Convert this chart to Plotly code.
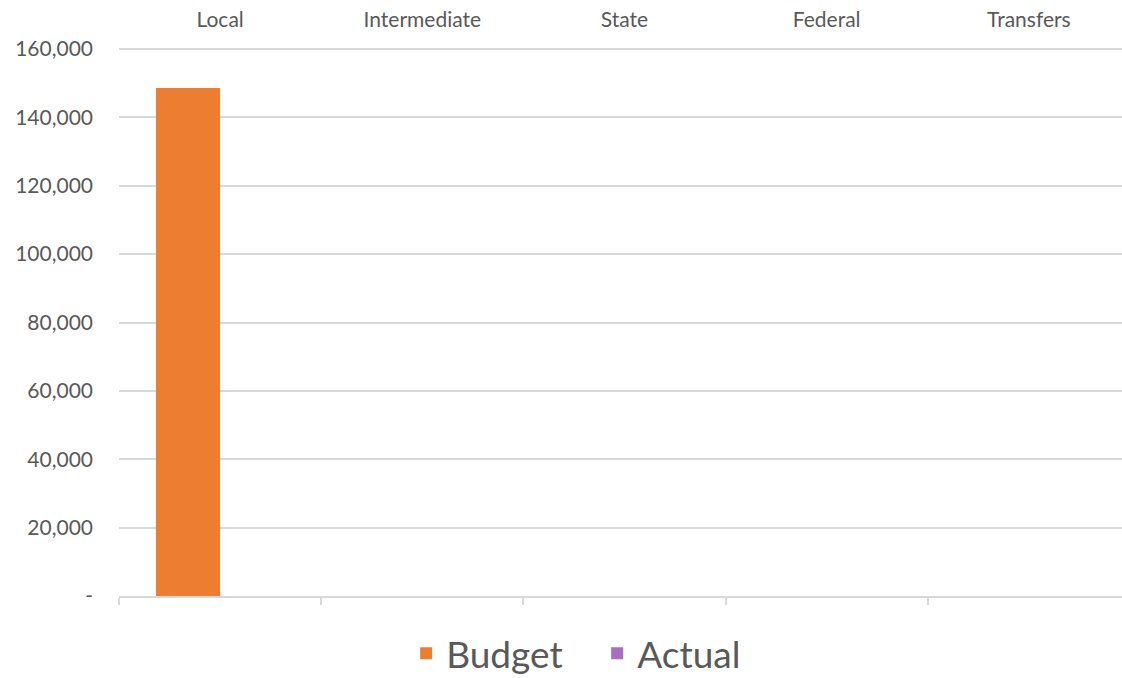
import plotly.graph_objects as go

categories = ["Local", "Intermediate", "State", "Federal", "Transfers"]
budget = [148600, 0, 0, 0, 0]
actual = [0, 0, 0, 0, 0]
y_ticks = [0, 20000, 40000, 60000, 80000, 100000, 120000, 140000, 160000]
y_tick_text = ["-", "20,000", "40,000", "60,000", "80,000", "100,000", "120,000", "140,000", "160,000"]

pos = list(range(len(categories)))
boundaries = [p - 0.5 for p in pos] + [len(categories) - 0.5]

FONT = "Lato, 'Open Sans', sans-serif"
GREY = "#595959"
GRID = "#d9d9d9"

fig = go.Figure()
fig.add_trace(go.Bar(x=pos, y=budget, name="Budget", marker_color="#ED7D31", marker_line_width=0))
fig.add_trace(go.Bar(x=pos, y=actual, name="Actual", marker_color="#A66FC2", marker_line_width=0))
fig.add_trace(go.Scatter(x=[], y=[], xaxis="x2", showlegend=False, hoverinfo="skip"))

plot_w = 1122 - 119
cat_px = 202.2
x_range = [-0.5, -0.5 + plot_w / cat_px]

fig.update_layout(
    width=1122, height=678,
    margin=dict(l=119, r=0, t=48, b=82),
    paper_bgcolor="white", plot_bgcolor="white",
    barmode="group", bargap=0.366, bargroupgap=0,
    font=dict(family=FONT, color=GREY),
    xaxis=dict(
        range=x_range, tickmode="array", tickvals=boundaries,
        showticklabels=False,
        ticks="outside", ticklen=7, tickwidth=2, tickcolor=GRID, automargin=False,
        showline=True, linecolor=GRID, linewidth=2, showgrid=False, zeroline=False,
    ),
    xaxis2=dict(
        overlaying="x", matches="x", side="top", anchor="y", automargin=False,
        tickmode="array", tickvals=pos, ticktext=categories,
        ticks="", showline=False, showgrid=False, zeroline=False, ticklabelstandoff=16,
        tickfont=dict(size=21, color=GREY, family=FONT),
    ),
    yaxis=dict(
        range=[0, 160300], tickmode="array", tickvals=y_ticks, ticktext=y_tick_text,
        showgrid=True, gridcolor=GRID, gridwidth=2, zeroline=False, showline=False,
        ticks="", ticklabelstandoff=25, automargin=False,
        tickfont=dict(size=21, color=GREY, family=FONT),
    ),
    legend=dict(
        orientation="h", xref="container", yref="container",
        x=0.362, xanchor="left", y=0.036, yanchor="middle",
        font=dict(size=37, color=GREY, family=FONT),
        traceorder="normal", itemwidth=30,
        entrywidth=146, entrywidthmode="pixels",
    ),
    showlegend=True,
)

fig.write_html(
    "out.html",
    config={"displayModeBar": False},
    post_script="document.body.style.margin='0';document.documentElement.style.overflow='hidden';",
)
